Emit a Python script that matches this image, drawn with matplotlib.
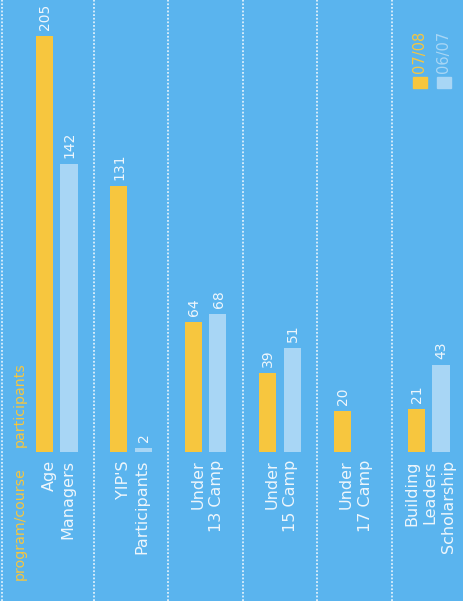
import matplotlib.pyplot as plt
from matplotlib.patches import Rectangle

# data
programs = ["Age\nManagers", "YIP'S\nParticipants", "Under\n13 Camp",
            "Under\n15 Camp", "Under\n17 Camp", "Building\nLeaders\nScholarship"]
season_0708 = [205, 131, 64, 39, 20, 21]
season_0607 = [142, 2, 68, 51, None, 43]
series_names = ["07/08", "06/07"]

bg = "#5ab4ee"
yellow = "#f7c63e"
light = "#a8d6f5"
txt = "#eef6fc"

fig = plt.figure(figsize=(4.64, 6.01), dpi=100)
fig.patch.set_facecolor(bg)
ax = fig.add_axes([0, 0, 1, 1])
ax.set_facecolor(bg)

px = 2.03  # pixels per participant
ax.set_ylim(-149 / px, 452 / px)
ax.set_xlim(-56.75 / 74.4, (464 - 56.75) / 74.4)
ax.axis("off")

w = 0.23
off = 0.165
for i in range(len(programs)):
    a = season_0708[i]
    b = season_0607[i]
    ax.bar(i - off, a, width=w, color=yellow, zorder=3)
    ax.text(i - off + 0.01, a + 3, str(a), rotation=90, ha="center", va="bottom",
            color=txt, fontsize=10)
    if b is not None:
        ax.bar(i + off, b, width=w, color=light, zorder=3)
        ax.text(i + off + 0.01, b + 3, str(b), rotation=90, ha="center", va="bottom",
                color=txt, fontsize=10)
    # category label under the baseline
    ax.text(i + 0.02, -4, programs[i], rotation=90, ha="center", va="top",
            multialignment="right", color=txt, fontsize=11.5, linespacing=1.3)

# dotted separators
for xs in [-0.736] + [i - 0.5 for i in range(1, len(programs))]:
    ax.axvline(xs, color="white", alpha=0.8, lw=1.3, ls=(0, (1, 1)), zorder=1)

# header
ax.text(-0.494, -7.5, "program/course", rotation=90, ha="center", va="top",
        color=yellow, fontsize=10.2)
ax.text(-0.494, 2.5, "participants", rotation=90, ha="center", va="bottom",
        color=yellow, fontsize=10.2)

# legend (rotated like the rest)
for k, (name, c) in enumerate(zip(series_names, [yellow, light])):
    x0 = (413 + k * 24) / 464
    ax.add_patch(Rectangle((x0, (601 - 88) / 601), 14 / 464, 11 / 601,
                           transform=ax.transAxes, color=c, clip_on=False))
    ax.text(x0 + 7 / 464, (601 - 73) / 601, name, rotation=90, ha="center",
            va="bottom", color=c, fontsize=10.5, transform=ax.transAxes)

fig.savefig("out.png", dpi=100, facecolor=bg)
